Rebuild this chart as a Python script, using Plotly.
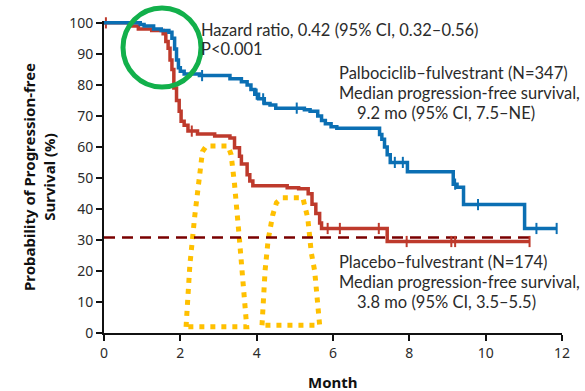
import numpy as np
import plotly.graph_objects as go

# Kaplan-Meier estimates (months, % progression-free)
palbo_months = [0, 0.95, 1.05, 1.3, 1.5, 1.7, 1.78, 1.85, 1.9, 1.95, 2.0, 2.1, 2.5, 3.3, 3.6,
                3.75, 3.85, 3.95, 4.05, 4.2, 4.35, 4.5, 5.25, 5.4, 5.6, 5.7, 5.8, 5.95, 6.1,
                7.22, 7.28, 7.35, 7.42, 7.5, 7.95, 9.15, 9.25, 9.42, 11.02, 11.86]
palbo_surv = [100, 99.5, 99, 98, 97.5, 97, 95, 91.6, 88, 85.5, 84.4, 83.5, 83, 82, 81,
              80, 78.5, 77, 75.5, 74, 73.5, 72.5, 72, 71.5, 70, 68.5, 67.5, 66.5, 66,
              64, 62.5, 60, 57.5, 55, 52, 48, 47, 41.4, 33.7, 33.7]
palbo_censor = [2.57, 4.0, 4.17, 5.05, 7.62, 7.83, 9.2, 9.8, 11.33, 11.86]

placebo_months = [0, 0.65, 0.9, 1.25, 1.55, 1.62, 1.68, 1.73, 1.78, 1.83, 1.9, 1.97, 2.02,
                  2.1, 2.2, 2.45, 2.9, 3.3, 3.42, 3.55, 3.6, 3.75, 3.82, 3.9, 4.8, 5.1,
                  5.35, 5.45, 5.55, 5.65, 5.7, 7.42, 11.15]
placebo_surv = [100, 99, 98, 97.5, 96.5, 94, 91.8, 88, 85, 79, 75, 71.5, 68.3,
                67, 65.1, 64.2, 63.5, 62.9, 59.7, 57, 54.5, 51, 49, 47.5, 46.8, 46.5,
                44.9, 41.5, 38.5, 35.5, 33.7, 29.5, 29.5]
placebo_censor = [0.05, 2.3, 5.86, 6.18, 7.2, 7.93, 9.1, 9.2, 11.15]

reference_level = 30.8
reference_span = [0, 11.15]

# Highlighted intervals (dotted outlines)
band1_x = [2.15, 2.25, 2.38, 2.5, 2.58, 2.68, 3.25, 3.33, 3.42, 3.55, 3.74, 2.15]
band1_y = [2.0, 22, 38, 52, 58.5, 60.3, 60.3, 57.5, 48, 30, 2.0, 2.0]
band2_x = [4.14, 4.22, 4.3, 4.42, 4.52, 4.66, 5.21, 5.34, 5.43, 5.52, 5.65, 4.14]
band2_y = [2.5, 20, 30, 38, 42, 43.6, 43.6, 37, 26, 20, 2.5, 2.5]

BLUE = "#0B6FB3"
RED = "#BE3A2C"
DARK_RED = "#7A0000"
YELLOW = "#FFC000"
GREEN = "#12B04B"
TEXT = "#2b2b2b"
FONT = "Lato"
TICK_FONT = "Noto Sans"


def level_at(t, months, surv):
    i = np.searchsorted(np.asarray(months), t, side="right") - 1
    return surv[max(i, 0)]


fig = go.Figure()

for bx, by in [(band1_x, band1_y), (band2_x, band2_y)]:
    fig.add_trace(go.Scatter(x=bx, y=by, mode="lines",
                             line=dict(color=YELLOW, width=5, dash="5px,6px"),
                             hoverinfo="skip"))

fig.add_trace(go.Scatter(x=reference_span, y=[reference_level] * 2, mode="lines",
                         line=dict(color=DARK_RED, width=2.5, dash="11px,7px")))

for months, surv, censor, color in [(placebo_months, placebo_surv, placebo_censor, RED),
                                    (palbo_months, palbo_surv, palbo_censor, BLUE)]:
    fig.add_trace(go.Scatter(x=months, y=surv, mode="lines", line_shape="hv",
                             line=dict(color=color, width=3.5)))
    fig.add_trace(go.Scatter(x=censor, y=[level_at(t, months, surv) for t in censor],
                             mode="markers", cliponaxis=False,
                             marker=dict(symbol="line-ns", size=8,
                                         line=dict(color=color, width=2))))

L, R, T, B = 104, 23, 21, 58
W, H = 585, 391
PW, PH = W - L - R, H - T - B


def px(x):
    return (x - L) / PW


def py(y):
    return (H - B - y) / PH


def note(text, x, y, size=16.5, **kw):
    fig.add_annotation(text=text, x=px(x), y=py(y), xref="paper", yref="paper",
                       xanchor="left", yanchor="middle", showarrow=False,
                       font=dict(family=FONT, size=size, color=TEXT), **kw)


note("Hazard ratio, 0.42 (95% CI, 0.32–0.56)", 199, 30)
note("P<0.001", 199, 49)
note("Palbociclib–fulvestrant (N=347)", 337, 73)
note("Median progression-free survival,", 337, 93)
note("9.2 mo (95% CI, 7.5–NE)", 355, 113)
note("Placebo–fulvestrant (N=174)", 337, 262)
note("Median progression-free survival,", 337, 282)
note("3.8 mo (95% CI, 3.5–5.5)", 355, 302)

fig.add_annotation(text="<b>Probability of Progression-free<br>Survival (%)</b>",
                   x=px(39), y=py(177), xref="paper", yref="paper",
                   xanchor="center", yanchor="middle", textangle=-90, showarrow=False,
                   font=dict(family=TICK_FONT, size=15, color="#111"))
fig.add_annotation(text="<b>Month</b>", x=px(333), y=py(382), xref="paper", yref="paper",
                   xanchor="center", yanchor="middle", showarrow=False,
                   font=dict(family=TICK_FONT, size=15, color="#111"))

fig.add_shape(type="circle", xref="paper", yref="paper",
              x0=px(123), x1=px(201), y0=py(87), y1=py(8),
              line=dict(color=GREEN, width=5))

axis_common = dict(showgrid=False, zeroline=False, showline=True, linecolor="#111",
                   linewidth=2, ticks="outside", ticklen=6, tickwidth=1.5,
                   tickcolor="#111", tickfont=dict(family=TICK_FONT, size=14, color=TEXT))
fig.update_xaxes(range=[0, 12], tick0=0, dtick=2, **axis_common)
fig.update_yaxes(range=[0, 100.6], tickvals=list(range(0, 101, 10)), **axis_common)

fig.update_layout(width=W, height=H, margin=dict(l=L, r=R, t=T, b=B),
                  plot_bgcolor="white", paper_bgcolor="white", showlegend=False)

fig.write_html("out.html")
